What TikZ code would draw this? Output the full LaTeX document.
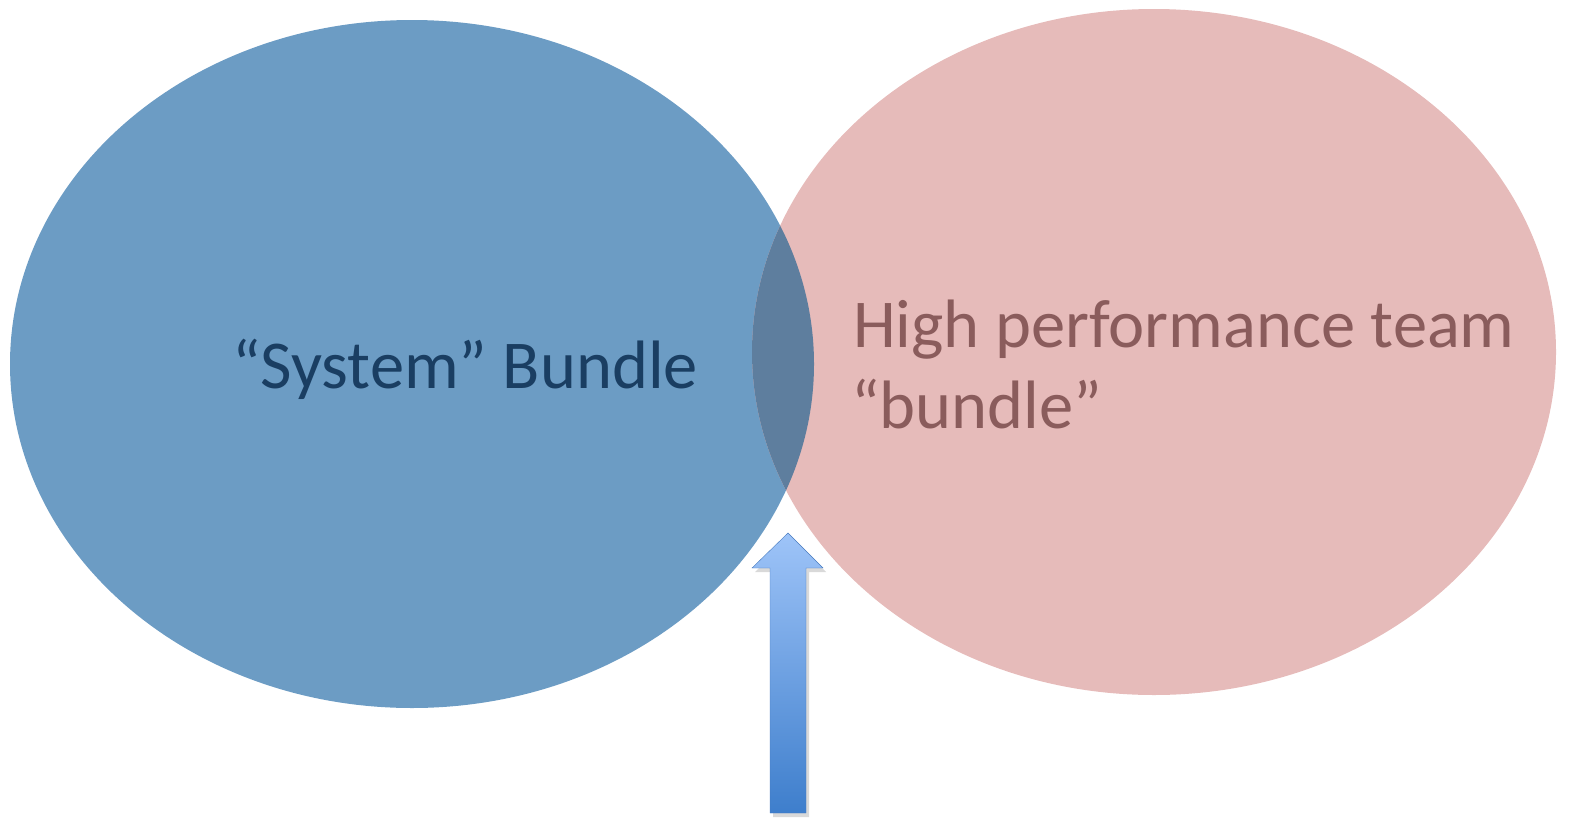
\documentclass[tikz,border=0pt]{standalone}
\usepackage{fontspec}
\setmainfont{Carlito}
\definecolor{SysBlue}{RGB}{108, 156, 196}
\definecolor{SysText}{RGB}{26, 62, 98}
\definecolor{TeamPink}{RGB}{230, 187, 186}
\definecolor{TeamText}{RGB}{138, 92, 92}
\definecolor{Overlap}{RGB}{94, 126, 158}
\definecolor{ArrowTop}{RGB}{158, 196, 248}
\definecolor{ArrowBot}{RGB}{62, 126, 204}
\definecolor{ArrowLine}{RGB}{72, 122, 190}
\usetikzlibrary{positioning}

\begin{document}
\begin{tikzpicture}[x=1pt, y=-1pt, every node/.style={font=\fontsize{68.5}{83}\selectfont, inner sep=0pt}]
        \useasboundingbox (0,0) rectangle (1589,819);

        % System bundle
        \fill[SysBlue] (412,364) ellipse [x radius=402, y radius=344];

        % Team bundle
        \fill[TeamPink] (1154,352) ellipse [x radius=402, y radius=343];

        % Overlap
        \begin{scope}
            \clip (412,364) ellipse [x radius=402, y radius=344];
            \fill[Overlap] (1154,352) ellipse [x radius=402, y radius=343];
        \end{scope}

        % Labels
        \node[anchor=base west, text=SysText] (sys) at (232,388) {“System” Bundle};
        \node[anchor=base west, text=TeamText] (teamA) at (853,347) {High performance team};
        \node[anchor=base west, text=TeamText] (teamB) at (851,428) {“bundle”};

        % Arrow
        \fill[black, opacity=0.15] (773,817) -- (773,572) -- (755,572) -- (791,537) -- (826,572) -- (809,572) -- (809,817) -- cycle;
        \draw[ArrowLine, top color=ArrowTop, bottom color=ArrowBot] (770,813) -- (770,568) -- (752,568) -- (788,533) -- (823,568) -- (806,568) -- (806,813) -- cycle;
    \end{tikzpicture}
\end{document}
